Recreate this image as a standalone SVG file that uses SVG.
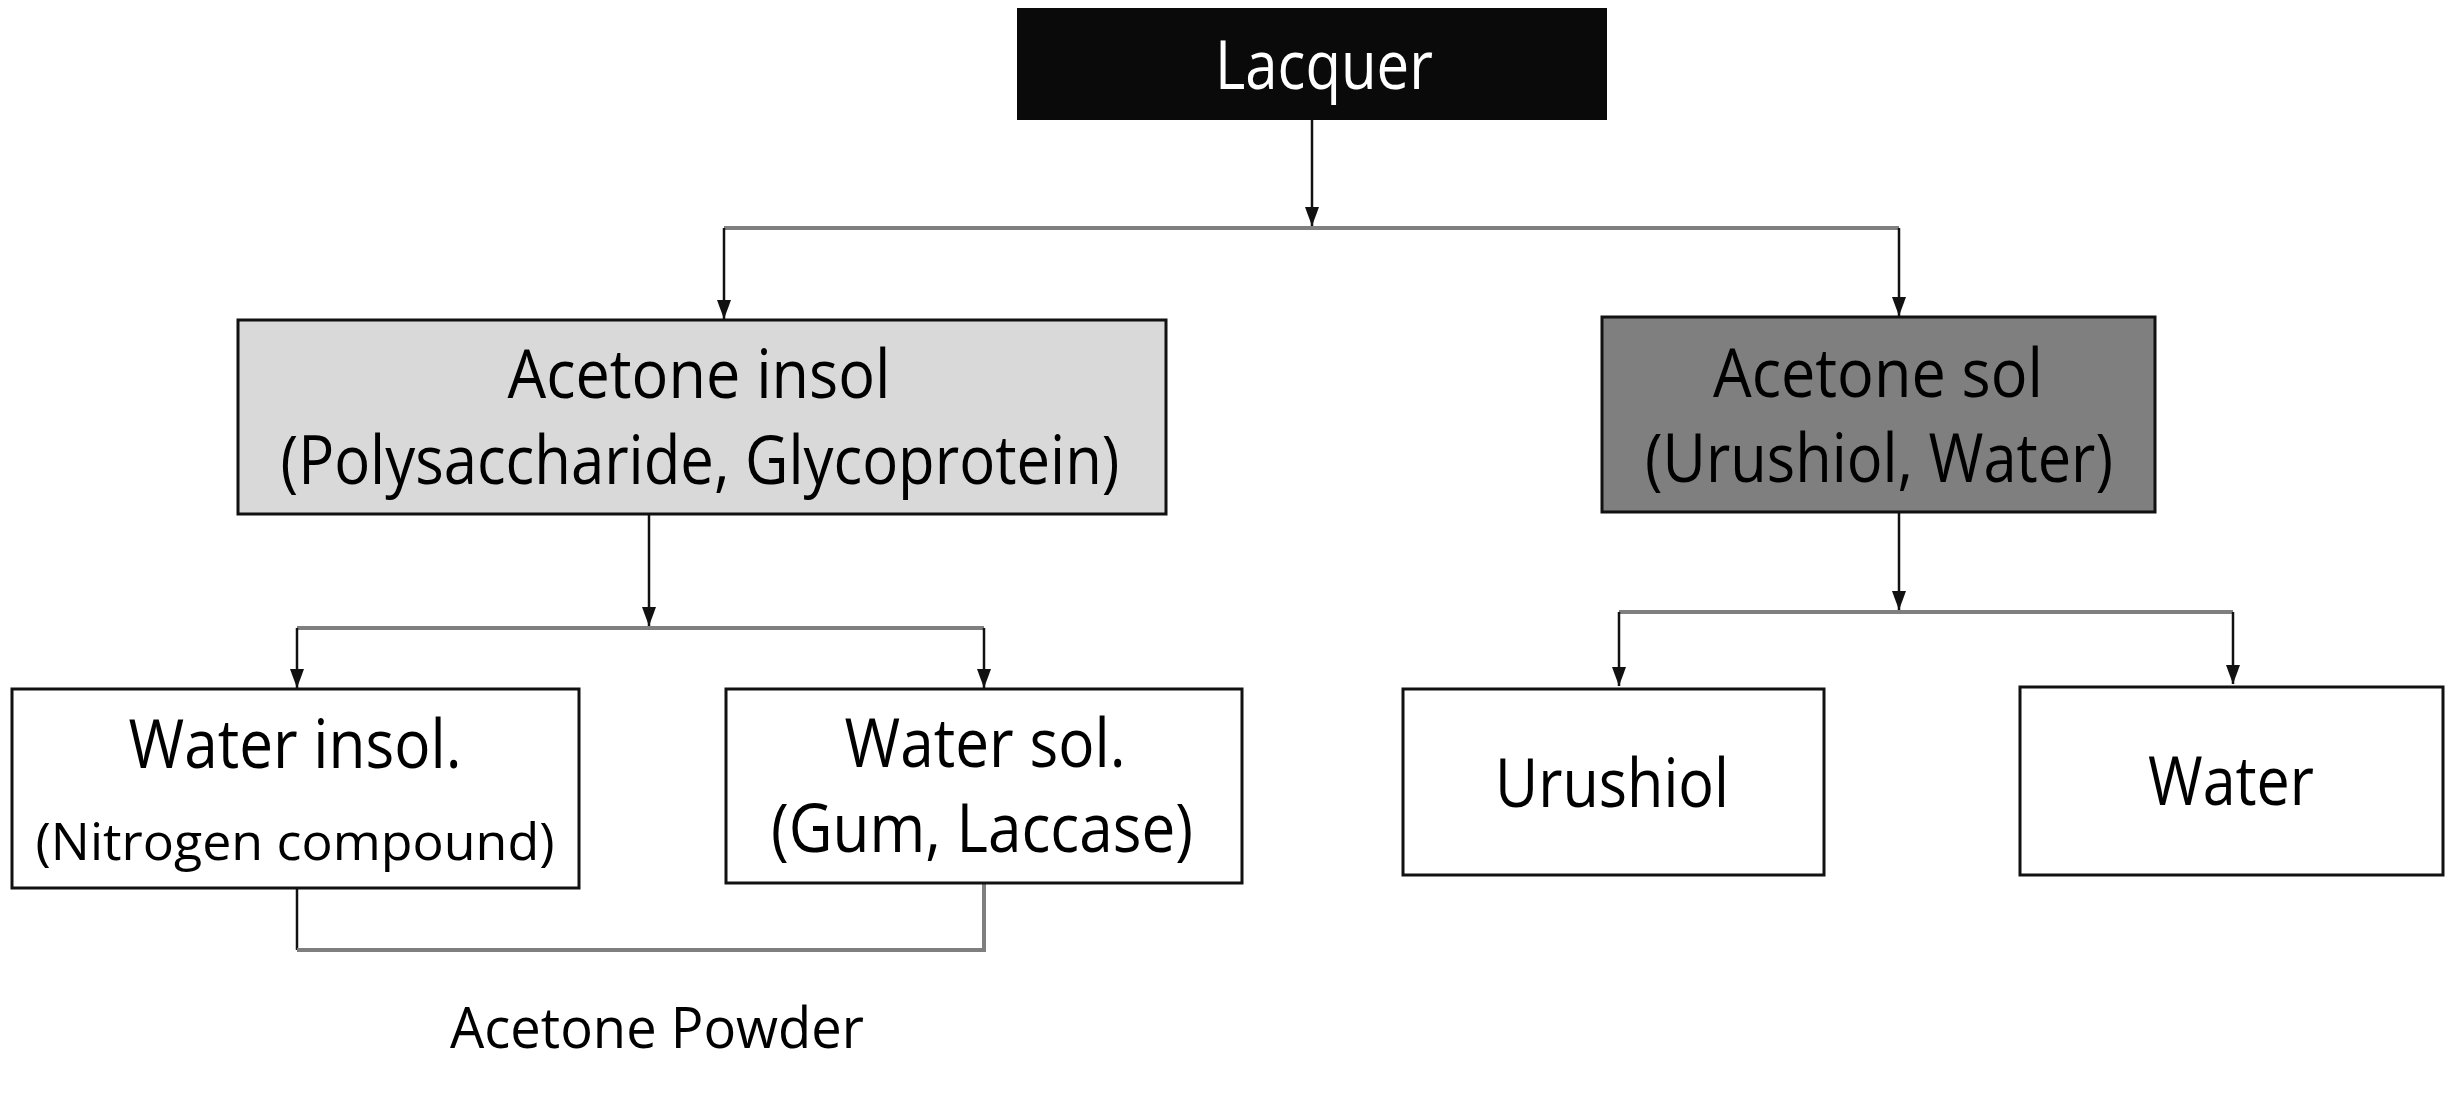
<svg xmlns="http://www.w3.org/2000/svg" width="2445" height="1102" viewBox="0 0 2445 1102">
<style>
text{font-family:"Open Sans","Liberation Sans",sans-serif;font-size:68px;text-anchor:middle;fill:#000}
.box{stroke:#111;stroke-width:3}
.v{fill:none;stroke:#111;stroke-width:2.5}
.h{fill:none;stroke:#7f7f7f;stroke-width:4}
</style>
<defs>
<marker id="ah" markerUnits="userSpaceOnUse" markerWidth="20" markerHeight="16" refX="19" refY="0" orient="auto" overflow="visible">
<path d="M0,-7 L19,0 L0,7 Z" fill="#111"/>
</marker>
</defs>
<rect width="2445" height="1102" fill="#fff"/>
<g id="connectors">
<path class="v" d="M1312 120 V226" marker-end="url(#ah)"/>
<path class="h" d="M724 228 H1899"/>
<path class="v" d="M724 228 V319" marker-end="url(#ah)"/>
<path class="v" d="M1899 228 V316" marker-end="url(#ah)"/>
<path class="v" d="M649 514 V626" marker-end="url(#ah)"/>
<path class="h" d="M297 628 H984"/>
<path class="v" d="M297 628 V688" marker-end="url(#ah)"/>
<path class="v" d="M984 628 V688" marker-end="url(#ah)"/>
<path class="v" d="M1899 512 V610" marker-end="url(#ah)"/>
<path class="h" d="M1619 612 H2233"/>
<path class="v" d="M1619 612 V686" marker-end="url(#ah)"/>
<path class="v" d="M2233 612 V684" marker-end="url(#ah)"/>
<path class="v" d="M297 888 V950"/>
<path class="h" d="M297 950 H984 V883"/>
</g>
<g id="lacquer">
<rect x="1017" y="8" width="590" height="112" fill="#0a0a0a"/>
<text x="1324" y="89" textLength="218" lengthAdjust="spacingAndGlyphs" style="fill:#fff">Lacquer</text>
</g>
<g id="acetone-insol">
<rect class="box" x="238" y="320" width="928" height="194" fill="#d9d9d9"/>
<text x="699" y="398" textLength="383" lengthAdjust="spacingAndGlyphs">Acetone insol</text>
<text x="700" y="484" textLength="839" lengthAdjust="spacingAndGlyphs">(Polysaccharide, Glycoprotein)</text>
</g>
<g id="acetone-sol">
<rect class="box" x="1602" y="317" width="553" height="195" fill="#7f7f7f"/>
<text x="1878" y="397" textLength="330" lengthAdjust="spacingAndGlyphs">Acetone sol</text>
<text x="1879" y="482" textLength="468" lengthAdjust="spacingAndGlyphs">(Urushiol, Water)</text>
</g>
<g id="water-insol">
<rect class="box" x="12" y="689" width="567" height="199" fill="#fff"/>
<text x="295" y="768" textLength="333" lengthAdjust="spacingAndGlyphs">Water insol.</text>
<text x="295" y="860" textLength="519" lengthAdjust="spacingAndGlyphs" style="font-size:52px">(Nitrogen compound)</text>
</g>
<g id="water-sol">
<rect class="box" x="726" y="689" width="516" height="194" fill="#fff"/>
<text x="985" y="767" textLength="281" lengthAdjust="spacingAndGlyphs">Water sol.</text>
<text x="982" y="852" textLength="422" lengthAdjust="spacingAndGlyphs">(Gum, Laccase)</text>
</g>
<g id="urushiol">
<rect class="box" x="1403" y="689" width="421" height="186" fill="#fff"/>
<text x="1612" y="807" textLength="234" lengthAdjust="spacingAndGlyphs">Urushiol</text>
</g>
<g id="water">
<rect class="box" x="2020" y="687" width="423" height="188" fill="#fff"/>
<text x="2231" y="805" textLength="166" lengthAdjust="spacingAndGlyphs">Water</text>
</g>
<g id="acetone-powder">
<text x="657" y="1048" textLength="414" lengthAdjust="spacingAndGlyphs" style="font-size:57px">Acetone Powder</text>
</g>
</svg>
